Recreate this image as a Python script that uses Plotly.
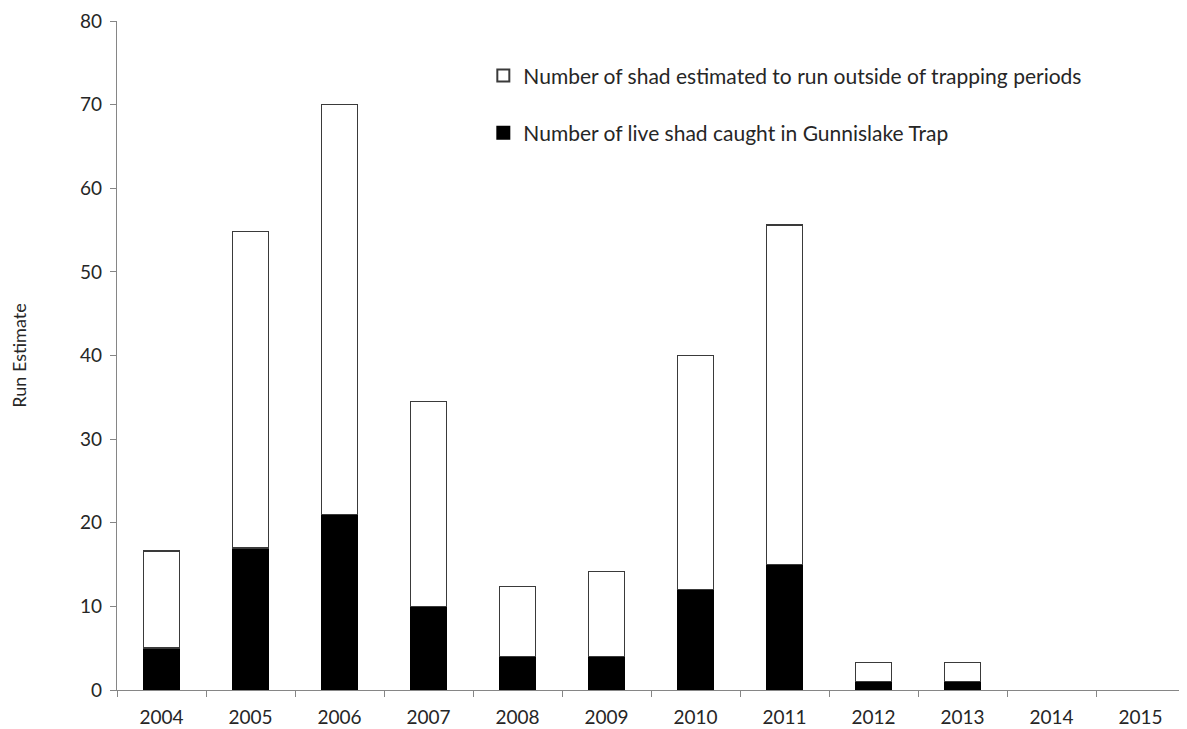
import plotly.graph_objects as go

years = ["2004", "2005", "2006", "2007", "2008", "2009", "2010", "2011", "2012", "2013", "2014", "2015"]
caught = [5, 17, 21, 10, 4, 4, 12, 15, 1, 1, 0, 0]
outside = [11.6, 37.8, 49, 24.5, 8.4, 10.2, 28, 40.6, 2.3, 2.3, 0, 0]

FONT = "Lato"
TXT = "#262626"
AX = "#868686"

fig = go.Figure()
fig.add_trace(go.Bar(
    x=years, y=caught, name="Number of live shad caught in Gunnislake Trap",
    marker=dict(color="black", line=dict(color="black", width=[1 if v > 0 else 0 for v in caught])),
    legendgroup="a", legendrank=2,
))
fig.add_trace(go.Bar(
    x=years, y=outside, name="Number of shad estimated to run outside of trapping periods",
    marker=dict(color="white", line=dict(color="#3a3a3a", width=[1.5 if v > 0 else 0 for v in outside])),
    legendgroup="b", legendrank=1,
))

fig.update_layout(
    width=1179, height=721,
    barmode="stack", bargap=0.595,
    plot_bgcolor="white", paper_bgcolor="white",
    margin=dict(l=109, r=2, t=13, b=39),
    font=dict(family=FONT, color=TXT, size=19),
    showlegend=True,
    legend=dict(
        x=0.343, y=0.9486, xanchor="left", yanchor="top",
        traceorder="grouped", tracegroupgap=27,
        font=dict(family=FONT, size=21, color=TXT),
        bgcolor="rgba(0,0,0,0)", itemsizing="constant",
    ),
    xaxis=dict(
        showline=True, linecolor=AX, linewidth=1.3, automargin=False,
        ticks="outside", tickson="boundaries", ticklen=6, tickcolor=AX,
        showgrid=False, tickfont=dict(family=FONT, size=19, color=TXT),
        ticklabelstandoff=10, ticklabeloverflow="allow",
    ),
    yaxis=dict(
        range=[0, 80], dtick=10, showline=True, linecolor=AX, linewidth=1.3, automargin=False,
        ticks="outside", ticklen=6, tickcolor=AX, showgrid=False, zeroline=False,
        tickfont=dict(family=FONT, size=19, color=TXT), ticklabelstandoff=4,
        ticklabeloverflow="allow",
        title=dict(text="Run Estimate", font=dict(family=FONT, size=18, color=TXT), standoff=48),
    ),
)

fig.write_html("out.html")
